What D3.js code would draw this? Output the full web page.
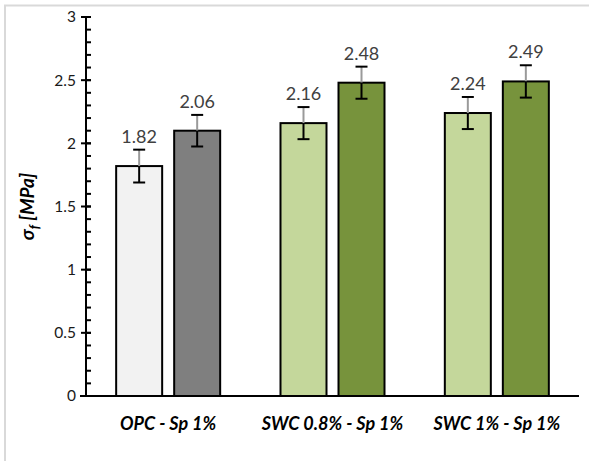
<!DOCTYPE html>
<html>
<head>
<meta charset="utf-8">
<script src="https://cdn.jsdelivr.net/npm/d3@7"></script>
<style>
  body { margin: 0; background: #fff; }
  svg { display: block; font-family: Lato, "Open Sans", sans-serif; }
</style>
</head>
<body>
<div id="chart"></div>
<script>
// data
const groups = ["OPC - Sp 1%", "SWC 0.8% - Sp 1%", "SWC 1% - Sp 1%"];
const series = ["a", "b"];
const values = [[1.82, 2.10], [2.16, 2.48], [2.24, 2.49]];
const errors = [[0.13, 0.125], [0.127, 0.127], [0.127, 0.128]];
const valueLabels = [["1.82", "2.06"], ["2.16", "2.48"], ["2.24", "2.49"]];
const colors = [["#f2f2f2", "#7f7f7f"], ["#c4d79b", "#77933c"], ["#c4d79b", "#77933c"]];
const yTicks = [0, 0.5, 1, 1.5, 2, 2.5, 3];

const width = 589, height = 461;
const margin = { top: 17, right: 10, bottom: 65, left: 86 };

const svg = d3.select("#chart")
  .append("svg")
  .attr("width", width)
  .attr("height", height);

// chart frame (only top & left edges visible in the crop)
svg.append("path")
  .attr("d", `M5,${height + 2} V5.5 H${width + 2}`)
  .attr("fill", "none")
  .attr("stroke", "#d9d9d9")
  .attr("stroke-width", 2);

const x0 = d3.scaleBand()
  .domain(groups)
  .range([margin.left, width - margin.right]);

const x1 = d3.scaleBand()
  .domain(series)
  .range([0, x0.bandwidth()])
  .paddingInner(0.207)
  .paddingOuter(0.52);

const y = d3.scaleLinear()
  .domain([0, 3])
  .range([height - margin.bottom, margin.top]);

const flat = [];
groups.forEach((g, i) => {
  series.forEach((s, j) => {
    flat.push({ g, s, v: values[i][j], e: errors[i][j], label: valueLabels[i][j], c: colors[i][j] });
  });
});

// bars
svg.append("g")
  .selectAll("rect")
  .data(flat)
  .join("rect")
  .attr("x", d => x0(d.g) + x1(d.s))
  .attr("y", d => y(d.v))
  .attr("width", x1.bandwidth())
  .attr("height", d => y(0) - y(d.v))
  .attr("fill", d => d.c)
  .attr("stroke", "#000")
  .attr("stroke-width", 2);

// error bars
const eb = svg.append("g")
  .selectAll("g")
  .data(flat)
  .join("g")
  .attr("transform", d => `translate(${x0(d.g) + x1(d.s) + x1.bandwidth() / 2},0)`);

eb.append("line")
  .attr("y1", d => y(d.v + d.e))
  .attr("y2", d => y(d.v))
  .attr("stroke", "#9a9a9a")
  .attr("stroke-width", 2);

eb.append("line")
  .attr("y1", d => y(d.v))
  .attr("y2", d => y(d.v - d.e))
  .attr("stroke", "#000")
  .attr("stroke-width", 2);

eb.selectAll(".cap")
  .data(d => [d.v + d.e, d.v - d.e])
  .join("line")
  .attr("class", "cap")
  .attr("x1", -6)
  .attr("x2", 6)
  .attr("y1", d => y(d))
  .attr("y2", d => y(d))
  .attr("stroke", "#000")
  .attr("stroke-width", 2);

// value labels
svg.append("g")
  .selectAll("text")
  .data(flat)
  .join("text")
  .attr("x", d => x0(d.g) + x1(d.s) + x1.bandwidth() / 2)
  .attr("y", d => y(d.v + d.e) - 7)
  .attr("text-anchor", "middle")
  .style("font-size", "18px")
  .style("fill", "#404040")
  .text(d => d.label);

// y axis
const yAxis = svg.append("g")
  .attr("transform", `translate(${margin.left},0)`);

yAxis.selectAll(".minor")
  .data(d3.range(0, 30).map(i => i / 10))
  .join("line")
  .attr("class", "minor")
  .attr("x1", 0)
  .attr("x2", 5)
  .attr("y1", d => y(d))
  .attr("y2", d => y(d))
  .attr("stroke", "#000")
  .attr("stroke-width", 2);

yAxis.selectAll(".major")
  .data(yTicks)
  .join("line")
  .attr("class", "major")
  .attr("x1", -5)
  .attr("x2", 5)
  .attr("y1", d => y(d))
  .attr("y2", d => y(d))
  .attr("stroke", "#000")
  .attr("stroke-width", 2);

yAxis.append("line")
  .attr("y1", y(0) + 1)
  .attr("y2", y(3) - 1)
  .attr("stroke", "#000")
  .attr("stroke-width", 2);

yAxis.selectAll("text")
  .data(yTicks)
  .join("text")
  .attr("x", -10)
  .attr("y", d => y(d))
  .attr("dy", "0.35em")
  .attr("text-anchor", "end")
  .style("font-size", "15.5px")
  .style("fill", "#1a1a1a")
  .text(d => d);

// x axis line
svg.append("line")
  .attr("x1", margin.left - 6)
  .attr("x2", width - margin.right)
  .attr("y1", y(0))
  .attr("y2", y(0))
  .attr("stroke", "#000")
  .attr("stroke-width", 2);

// x labels
svg.append("g")
  .selectAll("text")
  .data(groups)
  .join("text")
  .attr("x", d => x0(d) + x0.bandwidth() / 2)
  .attr("y", y(0) + 34)
  .attr("text-anchor", "middle")
  .style("font-size", "18px")
  .style("font-weight", "bold")
  .style("font-style", "italic")
  .style("fill", "#000")
  .text(d => d);

// y title
const yTitle = svg.append("text")
  .attr("transform", `translate(34,${(y(0) + y(3)) / 2}) rotate(-90)`)
  .attr("text-anchor", "middle")
  .style("font-size", "19px")
  .style("font-weight", "bold")
  .style("font-style", "italic")
  .style("fill", "#000");
yTitle.append("tspan").text("σ");
yTitle.append("tspan").attr("dy", 5).style("font-size", "13px").text("f");
yTitle.append("tspan").attr("dy", -5).text(" [MPa]");
</script>
</body>
</html>
